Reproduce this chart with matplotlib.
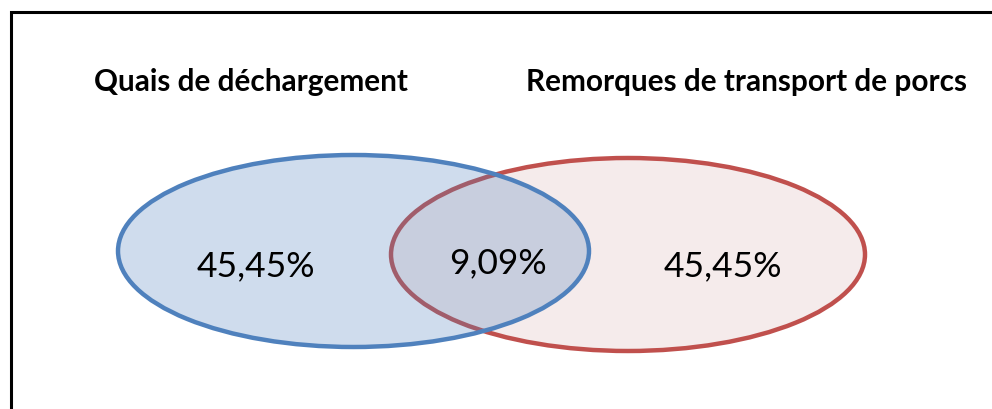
import matplotlib.pyplot as plt
from matplotlib.patches import Ellipse

# venn data
set_names = ["Quais de déchargement", "Remorques de transport de porcs"]
only_left = "45,45%"
both = "9,09%"
only_right = "45,45%"

plt.rcParams['font.family'] = ['Lato', 'DejaVu Sans']

fig = plt.figure(figsize=(9.92, 4.09), dpi=100)
ax = fig.add_axes([0, 0, 1, 1])
ax.set_xlim(0, 992)
ax.set_ylim(409, 0)
ax.axis('off')

# frame (only top and left visible in the crop)
ax.plot([11, 11, 992], [409, 12, 12], color='black', lw=2.2, solid_joinstyle='miter')

# red set first, blue set drawn over it with see-through fill
red = Ellipse((628, 254.5), 474, 193, facecolor='#f5ebeb', edgecolor='#c0504d', lw=3.2)
blue = Ellipse((353.5, 251), 471, 192, facecolor=(79/255, 129/255, 189/255, 0.27),
               edgecolor='#4f81bd', lw=3.2)
ax.add_patch(red)
ax.add_patch(blue)

ax.text(250.5, 91.5, set_names[0], ha='center', va='baseline', fontsize=21.4, fontweight='bold')
ax.text(746, 91.5, set_names[1], ha='center', va='baseline', fontsize=21.4, fontweight='bold')

ax.text(256, 276, only_left, ha='center', va='baseline', fontsize=25.5)
ax.text(498, 273, both, ha='center', va='baseline', fontsize=25.5)
ax.text(723, 276, only_right, ha='center', va='baseline', fontsize=25.5)

fig.savefig('out.png', dpi=100)
